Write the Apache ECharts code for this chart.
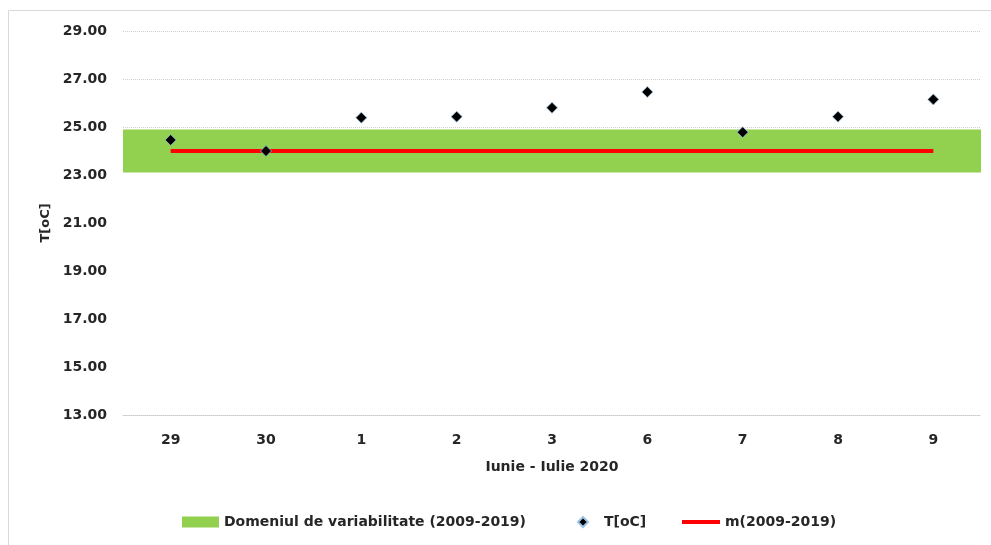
<!DOCTYPE html>
<html>
<head>
<meta charset="utf-8">
<script src="https://cdn.jsdelivr.net/npm/echarts@6/dist/echarts.min.js"></script>
<style>
  html, body { margin: 0; padding: 0; background: #fff; }
  #chart { width: 991px; height: 545px; }
</style>
</head>
<body>
<div id="chart"></div>
<script>
var categories = ['29', '30', '1', '2', '3', '6', '7', '8', '9'];
var tValues = [24.46, 24.0, 25.39, 25.43, 25.8, 26.46, 24.78, 25.43, 26.15];
var meanValues = [24.0, 24.0, 24.0, 24.0, 24.0, 24.0, 24.0, 24.0, 24.0];
var bandLow = [23.1, 23.1, 23.1, 23.1, 23.1, 23.1, 23.1, 23.1, 23.1];
var bandHigh = [24.9, 24.9, 24.9, 24.9, 24.9, 24.9, 24.9, 24.9, 24.9];
var yMin = 13, yMax = 29, yStep = 2;

var seriesNames = {
  band: 'Domeniul de variabilitate (2009-2019)',
  t: 'T[oC]',
  mean: 'm(2009-2019)'
};
var xTitle = 'Iunie - Iulie 2020';
var yTitle = 'T[oC]';

var bandWidth = bandHigh.map(function (h, i) { return +(h - bandLow[i]).toFixed(3); });

var FONT = 'DejaVu Sans';
var TXT = '#262626';

var chart = echarts.init(document.getElementById('chart'), null, { renderer: 'canvas' });
chart.setOption({
  animation: false,
  backgroundColor: '#ffffff',
  graphic: [{
    type: 'rect',
    shape: { x: 8.5, y: 10.5, width: 1000, height: 600 },
    style: { fill: 'none', stroke: '#d9d9d9', lineWidth: 1 },
    silent: true,
    z: -10
  }],
  grid: { left: 123, right: 10, top: 31, bottom: 130, containLabel: false },
  legend: [
    {
      left: 182, top: 515, padding: 0, itemWidth: 37, itemHeight: 11, icon: 'rect',
      data: [seriesNames.band],
      textStyle: { fontFamily: FONT, fontWeight: 'bold', fontSize: 14, color: TXT },
      selectedMode: false
    },
    {
      left: 577, top: 515, padding: 0, itemWidth: 10, itemHeight: 10, icon: 'diamond',
      data: [seriesNames.t],
      textStyle: { fontFamily: FONT, fontWeight: 'bold', fontSize: 14, color: TXT, padding: [0, 0, 0, 11] },
      selectedMode: false
    },
    {
      left: 682, top: 515, padding: 0, itemWidth: 38, itemHeight: 4, icon: 'rect',
      data: [seriesNames.mean],
      textStyle: { fontFamily: FONT, fontWeight: 'bold', fontSize: 14, color: TXT },
      selectedMode: false
    }
  ],
  xAxis: [
    {
      type: 'category',
      data: categories,
      boundaryGap: true,
      z: 5,
      name: xTitle,
      nameLocation: 'middle',
      nameGap: 45,
      nameTextStyle: { fontFamily: FONT, fontWeight: 'bold', fontSize: 14, color: TXT },
      axisLine: { show: true, lineStyle: { color: '#c8c8c8', type: 'dotted', width: 1 } },
      axisTick: { show: false },
      axisLabel: { fontFamily: FONT, fontWeight: 'bold', fontSize: 14, color: TXT, margin: 18 }
    },
    {
      type: 'category',
      data: categories,
      boundaryGap: false,
      show: false
    }
  ],
  yAxis: {
    type: 'value',
    min: yMin, max: yMax, interval: yStep,
    name: yTitle,
    nameLocation: 'middle',
    nameGap: 70,
    nameRotate: 90,
    nameTextStyle: { fontFamily: FONT, fontWeight: 'bold', fontSize: 13, color: TXT },
    axisLine: { show: false },
    axisTick: { show: false },
    axisLabel: {
      fontFamily: FONT, fontWeight: 'bold', fontSize: 14, color: TXT, margin: 16,
      formatter: function (v) { return v.toFixed(2); }
    },
    splitLine: { show: true, lineStyle: { color: '#cfcfcf', type: 'dotted', width: 1 } }
  },
  series: [
    {
      name: 'low',
      type: 'line',
      xAxisIndex: 1,
      stack: 'band',
      data: bandLow,
      symbol: 'none',
      lineStyle: { width: 0 },
      areaStyle: { color: '#ffffff', opacity: 1, origin: 'start' },
      silent: true,
      z: 1
    },
    {
      name: seriesNames.band,
      type: 'line',
      xAxisIndex: 1,
      stack: 'band',
      data: bandWidth,
      symbol: 'none',
      itemStyle: { color: '#92d050' },
      lineStyle: { width: 0 },
      areaStyle: { color: '#92d050', opacity: 1 },
      silent: true,
      z: 2
    },
    {
      name: seriesNames.mean,
      type: 'line',
      xAxisIndex: 0,
      data: meanValues,
      symbol: 'none',
      itemStyle: { color: '#ff0000' },
      lineStyle: { color: '#ff0000', width: 4 },
      silent: true,
      z: 3
    },
    {
      name: seriesNames.t,
      type: 'scatter',
      xAxisIndex: 0,
      data: tValues,
      symbol: 'diamond',
      symbolSize: 11,
      itemStyle: { color: '#000000', opacity: 1, borderColor: '#9cc2e5', borderWidth: 0.8 },
      silent: true,
      z: 4
    }
  ]
});
</script>
</body>
</html>
